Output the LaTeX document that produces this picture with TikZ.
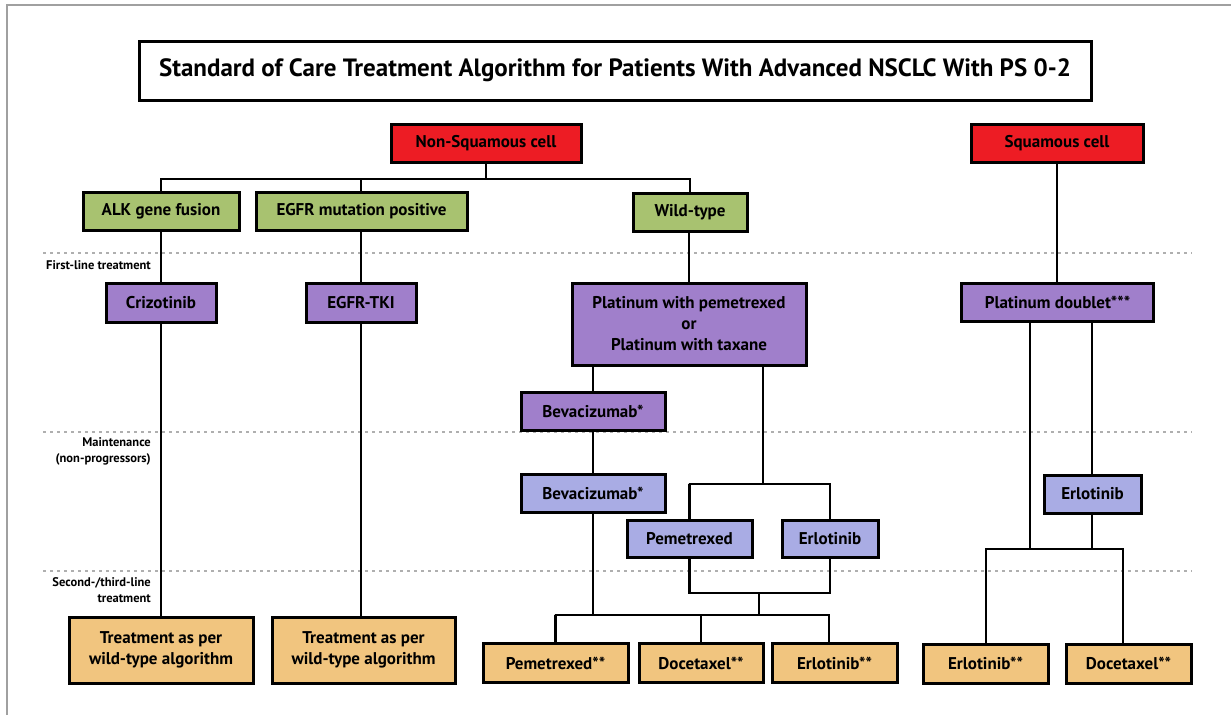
\documentclass[tikz,border=0pt]{standalone}
\usepackage{fontspec}
\setmainfont{PT Sans}
\definecolor{cred}{RGB}{237,28,36}
\definecolor{cgreen}{RGB}{168,194,112}
\definecolor{cpurple}{RGB}{160,127,203}
\definecolor{clight}{RGB}{169,172,228}
\definecolor{corange}{RGB}{241,197,127}
\definecolor{cframe}{RGB}{160,160,160}
\definecolor{cdot}{RGB}{175,175,175}
\begin{document}
\begin{tikzpicture}[x=1pt,y=-1pt,
  box/.style={draw=black,line width=3pt,font=\bfseries\fontsize{17}{21}\selectfont,inner sep=0pt,align=center},
  redbox/.style={box,fill=cred},
  greenbox/.style={box,fill=cgreen},
  purplebox/.style={box,fill=cpurple},
  lightbox/.style={box,fill=clight},
  orangebox/.style={box,fill=corange},
  conn/.style={draw=black,line width=2.6pt},
  dotline/.style={draw=cdot,line width=2.6pt,dash pattern=on 3pt off 4pt},
  phase/.style={font=\bfseries\fontsize{12.5}{16}\selectfont,anchor=east,align=right,inner sep=0pt}]
\useasboundingbox (0,0) rectangle (1231,715);
\fill[white] (0,0) rectangle (1231,715);
% frame
\draw[cframe,line width=1.5pt] (7,715) -- (7,5) -- (1231,5);
% phase dotted lines
\draw[dotline] (43,253) -- (1192,253);
\draw[dotline] (43,432) -- (1192,432);
\draw[dotline] (43,571) -- (1192,571);
\node[phase] (lab1) at (151,265) {First-line treatment};
\node[phase] (lab2) at (151,451) {Maintenance\\(non-progressors)};
\node[phase] (lab3) at (151,590) {Second-/third-line\\treatment};
% title
\node[box,minimum width=952pt,minimum height=59pt,font=\bfseries\fontsize{25}{30}\selectfont] (title) at (615,70.5)
  {Standard of Care Treatment Algorithm for Patients With Advanced NSCLC With PS 0-2};
% nodes
\node[redbox,minimum width=190pt,minimum height=38pt] (nsq) at (486,143) {Non-Squamous cell};
\node[redbox,minimum width=172pt,minimum height=38pt] (sq) at (1057,143) {Squamous cell};
\node[greenbox,minimum width=156pt,minimum height=38pt] (alk) at (161,211) {ALK gene fusion};
\node[greenbox,minimum width=211pt,minimum height=38pt] (egfr) at (361.5,211) {EGFR mutation positive};
\node[greenbox,minimum width=114pt,minimum height=38pt] (wild) at (690,212) {Wild-type};
\node[purplebox,minimum width=110pt,minimum height=39pt] (criz) at (161,302.5) {Crizotinib};
\node[purplebox,minimum width=110pt,minimum height=39pt] (tki) at (361,302.5) {EGFR-TKI};
\node[purplebox,minimum width=234pt,minimum height=82pt] (plat) at (689,324) {Platinum with pemetrexed\\or\\Platinum with taxane};
\node[purplebox,minimum width=192pt,minimum height=38pt] (pd) at (1057.5,302) {Platinum doublet***};
\node[purplebox,minimum width=144pt,minimum height=38pt] (bev1) at (593,411) {Bevacizumab*};
\node[lightbox,minimum width=144pt,minimum height=38pt] (bev2) at (593,493) {Bevacizumab*};
\node[lightbox,minimum width=125pt,minimum height=37pt] (pem) at (689.5,539) {Pemetrexed};
\node[lightbox,minimum width=96pt,minimum height=37pt] (erl) at (830,539) {Erlotinib};
\node[lightbox,minimum width=97pt,minimum height=38pt] (sqerl) at (1092.5,494) {Erlotinib};
\node[orangebox,minimum width=184pt,minimum height=66pt] (tw1) at (161,650) {Treatment as per\\wild-type algorithm};
\node[orangebox,minimum width=183pt,minimum height=66pt] (tw2) at (363.5,650) {Treatment as per\\wild-type algorithm};
\node[orangebox,minimum width=145pt,minimum height=39pt] (pem2) at (555.5,663) {Pemetrexed**};
\node[orangebox,minimum width=124pt,minimum height=39pt] (doc2) at (701,663) {Docetaxel**};
\node[orangebox,minimum width=125pt,minimum height=39pt] (erl2) at (834.5,663) {Erlotinib**};
\node[orangebox,minimum width=125pt,minimum height=39pt] (erl3) at (985.5,663.5) {Erlotinib**};
\node[orangebox,minimum width=125pt,minimum height=39pt] (doc3) at (1128.5,663.5) {Docetaxel**};
% junction coordinates
\coordinate (j1) at (486,179);
\coordinate (j2) at (689,484);
\coordinate (j3) at (759,593);
\coordinate (j4) at (555,615);
\coordinate (j5) at (986,549);
% connectors
\draw[conn] (nsq.south) -- (j1);
\draw[conn] (alk.north) |- (j1) -| (wild.north);
\draw[conn] (egfr.north -| 361,0) -- (361,179);
\draw[conn] (sq.south) -- (pd.north -| sq.south);
\draw[conn] (alk.south) -- (criz.north);
\draw[conn] (criz.south) -- (tw1.north);
\draw[conn] (tki.north) -- (tki.north |- egfr.south);
\draw[conn] (tki.south) -- (tki.south |- tw2.north);
\draw[conn] (wild.south -| plat.north) -- (plat.north);
\draw[conn] (bev1.north) -- (bev1.north |- plat.south);
\draw[conn] (bev1.south) -- (bev2.north);
\draw[conn] (763,365) -- (763,484);
\draw[conn] (pem.north) |- (j2) -| (erl.north);
\draw[conn] (j2) -- (763,484);
\draw[conn] (pem.south) |- (j3) -| (erl.south);
\draw[conn] (j3) -- (759,615);
\draw[conn] (pem2.north) |- (j4) -| (erl2.north -| 829,0);
\draw[conn] (bev2.south) -- (bev2.south |- j4);
\draw[conn] (doc2.north) -- (doc2.north |- j4);
\draw[conn] (1030,321) -- (1030,549);
\draw[conn] (sqerl.north -| 1092,0) -- (1092,321);
\draw[conn] (sqerl.south -| 1092,0) -- (1092,550);
\draw[conn] (erl3.north -| j5) |- (j5) -| (doc3.north -| 1123,0);
\end{tikzpicture}
\end{document}
